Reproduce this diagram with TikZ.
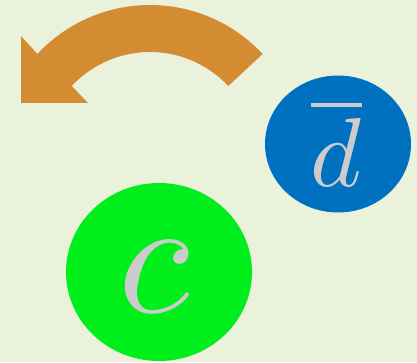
\documentclass[tikz,border=0pt]{standalone}
\usepackage{graphicx}
\usetikzlibrary{shapes.geometric,calc}
\definecolor{bgc}{HTML}{EBF2DC}
\definecolor{arrc}{HTML}{D48C32}
\definecolor{bluec}{HTML}{0070C0}
\definecolor{greenc}{HTML}{00EE1C}
\definecolor{txtc}{HTML}{CCCCCC}
\tikzset{
  blob/.style={ellipse, inner sep=0pt},
  biglabel/.style={text=txtc, inner sep=0pt},
}
\begin{document}
\begin{tikzpicture}[x=1pt,y=1pt]
\fill[bgc] (0,0) rectangle (417,362);
\useasboundingbox (0,0) rectangle (417,362);
% curved arrow
\coordinate (ctr) at (150,203);
\fill[arrc] (ctr) ++(43:154) arc (43:137:154) -- (21,326) -- (21,259) -- (88,259)
  -- ($(ctr)+(137:107)$) arc (137:43:107) -- cycle;
\node[blob, fill=bluec, minimum width=146, minimum height=137] (d) at (338,218) {};
\node[biglabel] (dlabel) at (336,219) {\scalebox{9.8}{$\overline{d}$}};
\node[blob, fill=greenc, minimum width=186, minimum height=178] (c) at (159,90) {};
\node[biglabel] (clabel) at (154,85) {\scalebox{16.5}{$c$}};
\end{tikzpicture}
\end{document}
